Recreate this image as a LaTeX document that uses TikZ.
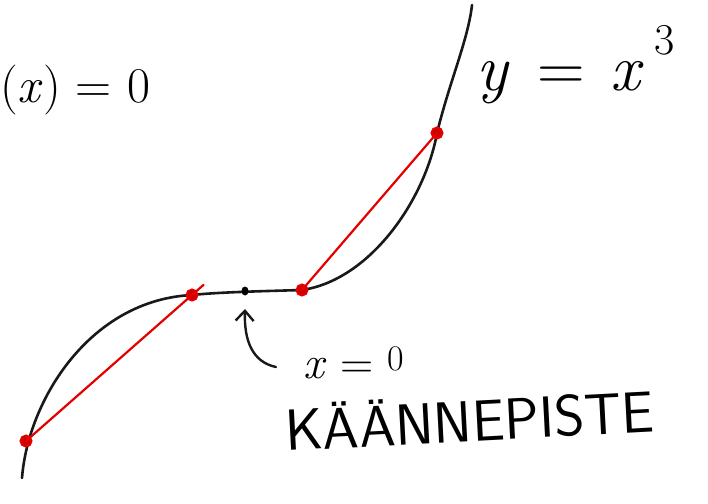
\documentclass[tikz,border=0pt]{standalone}
\usetikzlibrary{arrows.meta,calc,shapes.geometric}
\begin{document}
\begin{tikzpicture}[x=1pt,y=-1pt,
  curveline/.style={black!90, line width=2.6pt, line cap=round},
  chord/.style={red!90!black, line width=2.2pt, line cap=round},
  redpt/.style={circle, draw=red!90!black, fill=red!80!black, line width=2pt, inner sep=0pt, minimum size=11pt},
  hand/.style={inner sep=0pt},
  arr/.style={black!90, line width=2.4pt, line cap=round, -{Straight Barb[length=10pt,width=18pt,line width=2.4pt]}}
]
\useasboundingbox (0,0) rectangle (708,503);
% the curve y = x^3
\draw[curveline] (22,478) .. controls (28,400) and (90,300) .. (192,295)
  .. controls (220,292) and (270,291) .. (302,290)
  .. controls (370,280) and (425,200) .. (437,133)
  .. controls (450,80) and (468,40) .. (472,5);
% red chord points
\node[redpt] (p1) at (26,441) {};
\node[redpt] (p2) at (192,295) {};
\node[redpt] (p3) at (302,290) {};
\node[redpt] (p4) at (437,133) {};
\draw[chord] (p1.center) -- ($(p1.center)!1.07!(p2.center)$);
\draw[chord] (p3.center) -- (p4.center);
% inflection point
\node[ellipse, fill=black, inner sep=0pt, minimum width=7pt, minimum height=9pt] (dot) at (245,291) {};
% arrow
\coordinate (arrstart) at (276,367);
\coordinate (arrtip) at (245,309);
\draw[arr] (arrstart) .. controls (252,362) and (244,340) .. (arrtip);
% texts
\node[hand, anchor=base west, font=\fontsize{50}{54}\selectfont] (fx) at (0,102) {(\textit{x}) = 0};
\node[hand, anchor=base west, font=\fontsize{66}{70}\selectfont] (yx) at (476,90) {\textit{y}\hspace{8pt} = \hspace{6pt}\textit{x}\hspace{10pt}\raisebox{36pt}{\fontsize{44}{48}\selectfont 3}};
\node[hand, anchor=base west, font=\fontsize{46}{50}\selectfont] (x0) at (303,378) {\textit{x} = \raisebox{8pt}{\fontsize{36}{40}\selectfont 0}};
\node[hand, anchor=base west, rotate=3, font=\sffamily\fontsize{58}{62}\selectfont] (kp) at (286,451) {KÄÄNNEPISTE};
\end{tikzpicture}
\end{document}
